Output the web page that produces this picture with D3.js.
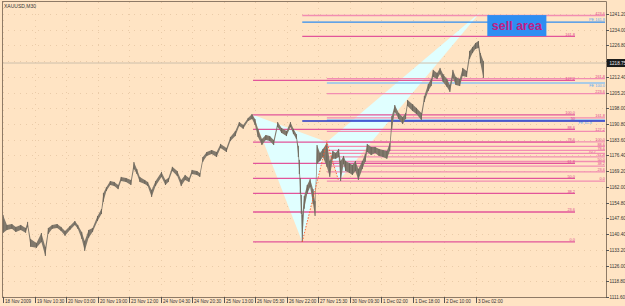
<!DOCTYPE html>
<html><head><meta charset="utf-8">
<script src="https://cdn.jsdelivr.net/npm/d3@7"></script>
<style>html,body{margin:0;padding:0;background:#FFE4C4;overflow:hidden}</style>
</head><body><svg id="c" width="625" height="306"></svg>
<script>
// ---- data ----
const barIdx=[0,4,9,13,18,23,25,28,34,39,43,46,50,55,59,63,68,73,76,80,83,87,91,96,100,102,105,109,113,117,120,125,130,133,136,139,144,147,151,155,161,165,168,172,177,181,185,189,192,197,200,203,207,212,217,221,227,231,236,240,244,249,253,256,259,263,267,271,275,279,283,288,292,295,298,300,301,302,303,304,306,309,312,315,317,319,322,325,329,332,335,338,341,343,346,348,352,355,358,361,365,368,370,374,378,382,386,390,393,395,398,402,406,409,411,416,420,425,428,432,435,437,441,444,447,451,454,457,460,464,467,471,474,477,480,483,485,488];
const highs=[1149.2,1144.6,1145.0,1143.7,1144.6,1143.2,1146.0,1138.2,1136.3,1140.9,1134.5,1143.2,1144.6,1145.0,1143.7,1141.8,1144.1,1146.4,1144.6,1141.4,1137.2,1142.3,1143.2,1148.7,1151.9,1159.2,1161.9,1164.7,1164.3,1162.9,1166.6,1166.1,1165.2,1173.4,1170.2,1166.6,1165.2,1164.3,1160.6,1164.7,1168.9,1165.2,1166.1,1171.2,1169.3,1165.2,1167.5,1166.1,1169.8,1169.3,1168.4,1175.7,1178.0,1178.9,1178.0,1181.7,1179.8,1184.9,1187.6,1191.7,1190.4,1193.6,1195.4,1193.1,1188.6,1183.9,1185.8,1185.3,1183.5,1191.7,1189.0,1187.6,1191.7,1188.6,1186.2,1180.8,1174.4,1166.1,1158.3,1149.2,1157.8,1162.9,1165.6,1161.0,1155.5,1181.2,1177.6,1179.4,1182.1,1173.9,1178.5,1177.6,1179.4,1173.9,1176.2,1173.9,1172.9,1172.1,1173.9,1170.2,1173.9,1177.1,1181.7,1180.3,1180.3,1179.4,1178.9,1178.5,1182.1,1194.5,1199.5,1195.9,1194.0,1195.9,1201.8,1199.9,1198.2,1195.9,1203.6,1209.1,1211.4,1215.6,1214.2,1216.5,1213.7,1211.4,1208.7,1215.6,1212.4,1211.4,1216.5,1215.1,1224.3,1226.1,1227.9,1228.8,1223.3,1219.7];
const lows=[1140.9,1142.3,1142.8,1141.4,1142.3,1141.0,1143.7,1134.6,1134.1,1136.8,1130.4,1140.5,1142.8,1143.2,1141.8,1139.6,1142.3,1144.6,1142.8,1138.2,1132.7,1138.7,1141.4,1146.4,1149.6,1155.2,1160.1,1162.9,1162.4,1161.0,1164.7,1164.3,1162.9,1170.2,1167.9,1164.3,1163.4,1162.4,1157.4,1162.4,1166.6,1162.9,1164.3,1169.3,1167.0,1162.4,1165.2,1164.3,1167.9,1167.5,1166.6,1173.5,1176.2,1177.1,1175.7,1179.8,1178.0,1183.0,1185.3,1189.9,1188.6,1192.2,1193.1,1190.4,1184.9,1181.2,1183.5,1183.0,1181.2,1189.5,1186.7,1185.3,1189.5,1186.2,1184.0,1175.7,1167.9,1158.8,1149.6,1136.8,1152.0,1158.8,1162.0,1154.2,1148.7,1172.5,1173.9,1175.7,1171.2,1166.6,1174.9,1174.9,1175.7,1164.7,1172.5,1169.3,1168.4,1167.5,1169.3,1165.2,1170.2,1173.5,1178.0,1176.6,1177.6,1176.2,1175.7,1174.9,1178.5,1188.6,1196.3,1193.1,1190.8,1193.1,1199.1,1196.8,1195.4,1192.7,1200.9,1205.9,1208.2,1212.4,1211.4,1213.7,1210.1,1207.8,1205.5,1211.9,1208.7,1208.2,1212.8,1212.4,1220.6,1223.3,1225.2,1225.6,1218.7,1211.9];
const yTicks=[1241.20,1234.00,1226.80,1219.60,1212.40,1205.20,1198.00,1190.80,1183.60,1176.40,1169.20,1162.00,1154.80,1147.60,1140.40,1133.20,1126.00,1118.80,1111.60];
const xTickBars=[0,32,64,96,128,160,192,224,256,288,320,352,384,416,448,480];
const xTickLabels=["18 Nov 2009","19 Nov 10:30","20 Nov 03:00","20 Nov 19:00","23 Nov 12:00","24 Nov 04:30","24 Nov 20:30","25 Nov 13:00","26 Nov 05:30","26 Nov 22:00","27 Nov 15:30","30 Nov 09:30","1 Dec 02:00","1 Dec 18:00","2 Dec 10:00","3 Dec 02:00"];
const lastPrice=1218.75;
const symbol="XAUUSD,M30";
// harmonic pattern points [bar, price]
const ptX=[254,1195.0], ptA=[304,1136.8], ptB=[329,1182.6], ptC=[341,1164.7], ptD=[485,1242.1];
const fibXA=[0,23.6,38.2,50,61.8,78.6,88.6,100,127.2,161.8];
const fibCB=[0,23.6,38.2,50,61.8,70.7,78.6,88.6,100,127.2,161.8,223.6,261.8,423.6];
const projNames=["PE 161.8","FE 100.0","FE 61.8"];
const projPrices=[1237.5,1209.6,1192.7];
const midName="50", midPrice=1192.2;
const sellText="sell area";
const sellBox=[492,552,1240.7,1231.1];

// ---- drawing ----
const svg=d3.select("#c");
const L=2,R=606,T=2,Bt=297;
const x=d3.scaleLinear().domain([0,32]).range([3,34.5]);
const y=d3.scaleLinear().domain([1111.6,1241.2]).range([297,14]);
const font="'Liberation Sans',Arial,sans-serif";

svg.append("rect").attr("width",625).attr("height",306).attr("fill","#FFE4C4");

// grid
const g=svg.append("g");
yTicks.forEach(v=>g.append("line").attr("x1",L).attr("x2",R).attr("y1",Math.round(y(v))+.5).attr("y2",Math.round(y(v))+.5)
  .attr("stroke","#EACBA8").attr("stroke-dasharray","1,5"));
xTickBars.forEach(b=>g.append("line").attr("x1",Math.round(x(b))+.5).attr("x2",Math.round(x(b))+.5).attr("y1",T).attr("y2",Bt)
  .attr("stroke","#EACBA8").attr("stroke-dasharray","1,5"));

// cyan triangles
const tri=(pts)=>svg.append("path").attr("d",d3.line()(pts.map(p=>[x(p[0]),y(p[1])]))+"Z").attr("fill","#E0FFFF");
tri([ptX,ptA,ptB]);
tri([ptB,ptC,ptD]);

// current price line
svg.append("line").attr("x1",L).attr("x2",R).attr("y1",y(lastPrice)).attr("y2",y(lastPrice)).attr("stroke","#CDBFAC").attr("stroke-width",1);

// fib lines
function level(price,x1,x2,color,w,label,lx,lcolor,dy){
  const yy=y(price);
  svg.append("line").attr("x1",x1).attr("x2",x2).attr("y1",yy).attr("y2",yy).attr("stroke",color).attr("stroke-width",w);
  if(label) svg.append("text").attr("x",lx).attr("y",yy+(dy||-0.8)).attr("text-anchor","end").attr("font-family",font)
    .attr("font-size",3.9).attr("fill",lcolor).text(label);
}
fibCB.forEach(r=>{
  const p=ptC[1]+(ptB[1]-ptC[1])*r/100;
  const start = r>400 ? x(ptA[0]) : x(ptB[0]);
  const lx = (r>70 && r<71) ? 596 : 605;
  level(p,start,605,"#F28DB2",1.3,r.toFixed(1),lx,"#E0458E");
});
fibXA.forEach(r=>{
  const p=ptA[1]+(ptX[1]-ptA[1])*r/100;
  const start = r>150 ? x(ptA[0]) : x(ptX[0]);
  level(p,start,575,"#E2559A",1.3,r.toFixed(1),575,"#E0458E");
});
level(projPrices[0],x(ptA[0]),605,"#2F8CF0",1.3,projNames[0],605,"#62A8F0");
level(projPrices[1],x(ptB[0]),605,"#8EC3F2",1.5,projNames[1],605,"#62A8F0",3.6);
level(projPrices[2],x(ptB[0]),605,"#8EC3F2",1.5,projNames[2],592,"#62A8F0",3.6);
level(midPrice,x(ptA[0]),605,"#2436C8",1.6,midName,575,"#D0409A");

// price band (candles)
const idx=d3.range(barIdx.length);
svg.append("path").attr("d",d3.area().x(i=>x(barIdx[i])).y0(i=>y(lows[i])).y1(i=>y(highs[i]))(idx))
  .attr("fill","#81796C");
idx.forEach(i=>svg.append("line").attr("x1",x(barIdx[i])).attr("x2",x(barIdx[i])).attr("y1",y(highs[i])).attr("y2",y(lows[i]))
  .attr("stroke","#6E675B").attr("stroke-width",1));

// dotted pattern legs
svg.append("path").attr("d",d3.line()([ptA,ptB,ptC].map(p=>[x(p[0]),y(p[1])]))).attr("fill","none")
  .attr("stroke","#FF5A2A").attr("stroke-width",0.9).attr("stroke-dasharray","1.5,1.5");

// sell area box
svg.append("rect").attr("x",x(sellBox[0])).attr("y",y(sellBox[2])).attr("width",x(sellBox[1])-x(sellBox[0])).attr("height",y(sellBox[3])-y(sellBox[2]))
  .attr("fill","#2E8EF2");
svg.append("text").attr("x",(x(sellBox[0])+x(sellBox[1]))/2).attr("y",(y(sellBox[2])+y(sellBox[3]))/2+4)
  .attr("text-anchor","middle").attr("font-family",font).attr("font-weight","bold").attr("font-size",12.5)
  .attr("fill","#C01C86").text(sellText);

// frame
svg.append("path").attr("d",`M${L+.5},${Bt+.5}V${T-.5}H${R+.5}V${Bt+.5}H${L}`).attr("fill","none").attr("stroke","#8E7A66").attr("stroke-width",1);
svg.append("line").attr("x1",L).attr("x2",R).attr("y1",T-.5).attr("y2",T-.5).attr("stroke","#8E7A66");

// y axis
yTicks.forEach(v=>{
  const yy=Math.round(y(v))+.5;
  svg.append("line").attr("x1",R).attr("x2",R+3).attr("y1",yy).attr("y2",yy).attr("stroke","#555");
  if(Math.abs(v-lastPrice)>3) svg.append("text").attr("x",R+3.5).attr("y",yy+1.6).attr("font-family",font).attr("font-size",4.6)
    .attr("fill","#333").text(v.toFixed(2));
});
const ly=y(lastPrice);
svg.append("rect").attr("x",R+1).attr("y",ly-4).attr("width",20).attr("height",8).attr("fill","#1A1A1A");
svg.append("text").attr("x",R+3.5).attr("y",ly+1.6).attr("font-family",font).attr("font-size",4.6).attr("fill","#EEE").text(lastPrice.toFixed(2));

// x axis
xTickBars.forEach((b,i)=>{
  const xx=Math.round(x(b))+.5;
  svg.append("line").attr("x1",xx).attr("x2",xx).attr("y1",Bt).attr("y2",Bt+6).attr("stroke","#555");
  svg.append("text").attr("x",xx+1.5).attr("y",Bt+6).attr("font-family",font).attr("font-size",4.6).attr("fill","#333").text(xTickLabels[i]);
});

// title
svg.append("text").attr("x",4).attr("y",8).attr("font-family",font).attr("font-size",5).attr("fill","#333").text(symbol);
</script></body></html>
